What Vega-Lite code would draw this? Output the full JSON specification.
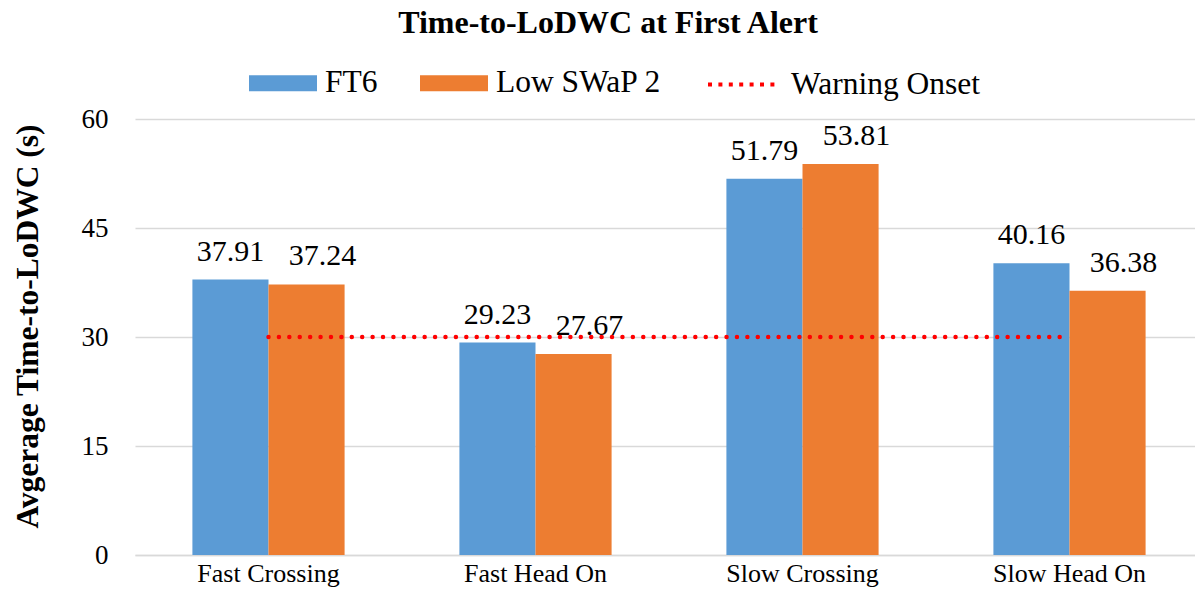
{
  "$schema": "https://vega.github.io/schema/vega-lite/v6.json",
  "width": 1060,
  "height": 436,
  "autosize": "none",
  "padding": {"left": 135, "top": 119, "right": 0, "bottom": 51},
  "background": "white",
  "title": {
    "text": "Time-to-LoDWC  at First Alert",
    "font": "Liberation Serif",
    "fontSize": 32,
    "fontWeight": "bold",
    "color": "#000000",
    "anchor": "middle",
    "frame": "group",
    "dx": -57,
    "dy": -5
  },
  "config": {
    "view": {"stroke": null}
  },
  "datasets": {
    "bars": [
      {"scenario": "Fast Crossing", "series": "FT6", "value": 37.91},
      {"scenario": "Fast Crossing", "series": "Low SWaP 2", "value": 37.24},
      {"scenario": "Fast Head On", "series": "FT6", "value": 29.23},
      {"scenario": "Fast Head On", "series": "Low SWaP 2", "value": 27.67},
      {"scenario": "Slow Crossing", "series": "FT6", "value": 51.79},
      {"scenario": "Slow Crossing", "series": "Low SWaP 2", "value": 53.81},
      {"scenario": "Slow Head On", "series": "FT6", "value": 40.16},
      {"scenario": "Slow Head On", "series": "Low SWaP 2", "value": 36.38}
    ],
    "onset": [
      {"scenario": "Fast Crossing", "series": "Warning Onset", "value": 30},
      {"scenario": "Fast Head On", "series": "Warning Onset", "value": 30},
      {"scenario": "Slow Crossing", "series": "Warning Onset", "value": 30},
      {"scenario": "Slow Head On", "series": "Warning Onset", "value": 30}
    ]
  },
  "encoding": {
    "x": {
      "field": "scenario",
      "type": "nominal",
      "sort": ["Fast Crossing", "Fast Head On", "Slow Crossing", "Slow Head On"],
      "scale": {"range": [0, 1068], "paddingInner": 0.43, "paddingOuter": 0.215},
      "axis": {
        "title": null,
        "labelAngle": 0,
        "ticks": false,
        "labelFontSize": 26,
        "labelFont": "Liberation Serif",
        "labelColor": "#000000",
        "labelPadding": 5,
        "labelLimit": 400,
        "domainColor": "#d9d9d9",
        "domainWidth": 1.3
      }
    },
    "y": {
      "field": "value",
      "type": "quantitative",
      "scale": {"domain": [0, 60]},
      "axis": {
        "values": [0, 15, 30, 45, 60],
        "grid": true,
        "gridColor": "#d9d9d9",
        "gridWidth": 1.3,
        "domain": false,
        "ticks": false,
        "labelFontSize": 27,
        "labelFont": "Liberation Serif",
        "labelColor": "#000000",
        "labelPadding": 27,
        "title": "Avgerage Time-to-LoDWC  (s)",
        "titleFont": "Liberation Serif",
        "titleFontSize": 31.5,
        "titleFontWeight": "bold",
        "titleColor": "#000000",
        "titleX": -107,
        "titleY": 207,
        "titleAngle": -90,
        "titleAlign": "center",
        "titleBaseline": "middle",
        "titleLimit": 600
      }
    }
  },
  "layer": [
    {
      "data": {"name": "bars"},
      "mark": {"type": "bar"},
      "encoding": {
        "xOffset": {"field": "series", "type": "nominal", "sort": ["FT6", "Low SWaP 2"]},
        "fill": {
          "field": "series",
          "type": "nominal",
          "scale": {"domain": ["FT6", "Low SWaP 2"], "range": ["#5B9BD5", "#ED7D31"]},
          "legend": {
            "orient": "none",
            "legendX": 114,
            "legendY": -70,
            "direction": "horizontal",
            "title": null,
            "symbolType": "M-1,-0.235H1V0.235H-1Z",
            "symbolSize": 4624,
            "symbolStrokeWidth": 0,
            "labelFontSize": 31.5,
            "labelFont": "Liberation Serif",
            "labelColor": "#000000",
            "labelOffset": 8,
            "labelLimit": 400,
            "columnPadding": 42
          }
        }
      }
    },
    {
      "data": {"name": "bars"},
      "transform": [{"filter": "datum.series === 'FT6'"}],
      "mark": {"type": "text", "baseline": "alphabetic", "dy": -19, "fontSize": 30, "font": "Liberation Serif", "color": "#000000"},
      "encoding": {
        "xOffset": {"field": "series", "type": "nominal", "sort": ["FT6", "Low SWaP 2"]},
        "text": {"field": "value", "type": "quantitative", "format": ".2f"}
      }
    },
    {
      "data": {"name": "bars"},
      "transform": [{"filter": "datum.series === 'Low SWaP 2'"}],
      "mark": {"type": "text", "baseline": "alphabetic", "dy": -19, "dx": 16, "fontSize": 30, "font": "Liberation Serif", "color": "#000000"},
      "encoding": {
        "xOffset": {"field": "series", "type": "nominal", "sort": ["FT6", "Low SWaP 2"]},
        "text": {"field": "value", "type": "quantitative", "format": ".2f"}
      }
    },
    {
      "data": {"name": "onset"},
      "mark": {"type": "line", "strokeDash": [0.01, 10.4], "strokeCap": "round", "strokeWidth": 4.5},
      "encoding": {
        "stroke": {
          "field": "series",
          "type": "nominal",
          "scale": {"domain": ["Warning Onset"], "range": ["#FF0000"]},
          "legend": {
            "orient": "none",
            "legendX": 571,
            "legendY": -70,
            "title": null,
            "symbolType": "stroke",
            "symbolSize": 4489,
            "symbolStrokeWidth": 4,
            "symbolDash": [4, 6.4],
            "labelFontSize": 31.5,
            "labelFont": "Liberation Serif",
            "labelColor": "#000000",
            "labelOffset": 14,
            "labelLimit": 400
          }
        }
      }
    }
  ]
}
